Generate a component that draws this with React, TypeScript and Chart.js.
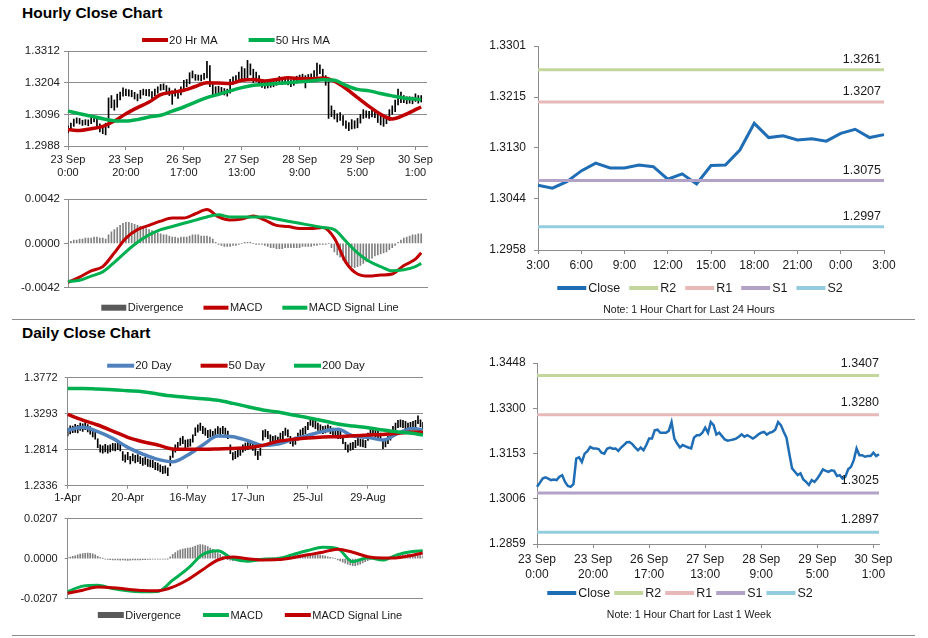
import { useEffect, useRef } from 'react';
import { Chart, registerables } from 'chart.js';

Chart.register(...registerables);

const FONT = 'Arial, "Liberation Sans", Helvetica, sans-serif';
Chart.defaults.font.family = FONT;
const AXIS = '#8c8c8c';
const INK = '#1a1a1a';
const NONE = 'rgba(0,0,0,0)';
const RED = '#c00000';
const GREEN = '#00b050';
const BLUE_MA = '#4f81bd';
const CLOSE_BLUE = '#1f6db4';
const R2_C = '#c3d69b';
const R1_C = '#e6b9b8';
const S1_C = '#b3a2c7';
const S2_C = '#93cddd';
const DIV_GRAY = '#808080';
const DIV_KEY = '#595959';

// ---------------- tick labels ----------------
const hourlyTickNames = [['23 Sep', '0:00'], ['23 Sep', '20:00'], ['26 Sep', '17:00'], ['27 Sep', '13:00'], ['28 Sep', '9:00'], ['29 Sep', '5:00'], ['30 Sep', '1:00']];
const dailyTickNames = ['1-Apr', '20-Apr', '16-May', '17-Jun', '25-Jul', '29-Aug'];
const dayTickNames = ['3:00', '6:00', '9:00', '12:00', '15:00', '18:00', '21:00', '0:00', '3:00'];

const hourlyPriceTicks = [1.2988, 1.3096, 1.3204, 1.3312];
const hourlyMacdTicks = [-0.0042, 0, 0.0042];
const dailyPriceTicks = [1.2336, 1.2814, 1.3293, 1.3772];
const dailyMacdTicks = [-0.0207, 0, 0.0207];
const dayTicks = [1.2958, 1.3044, 1.313, 1.3215, 1.3301];
const weekTicks = [1.2859, 1.3006, 1.3153, 1.33, 1.3448];

// ---------------- hourly (1 week) ----------------
const hourlyClose = [
  1.3045, 1.3058, 1.3072, 1.3076, 1.3072, 1.3067, 1.3069, 1.3067, 1.3078, 1.3083,
  1.3061, 1.3048, 1.3045, 1.3054, 1.3137, 1.3141, 1.3126, 1.3153, 1.3161, 1.3175,
  1.317, 1.317, 1.3168, 1.3156, 1.3153, 1.3169, 1.3173, 1.3169, 1.317, 1.3162,
  1.3173, 1.3181, 1.319, 1.3191, 1.3184, 1.3173, 1.3164, 1.3173, 1.3164, 1.3181,
  1.3202, 1.3202, 1.3229, 1.3231, 1.3221, 1.3221, 1.3221, 1.3227, 1.3256, 1.3202,
  1.3186, 1.3173, 1.3181, 1.3177, 1.3173, 1.317, 1.3205, 1.3213, 1.3213, 1.3221,
  1.3238, 1.3221, 1.3256, 1.3246, 1.3215, 1.3221, 1.321, 1.3199, 1.3195, 1.3197,
  1.3199, 1.3202, 1.3208, 1.3216, 1.3208, 1.3213, 1.3208, 1.3202, 1.3208, 1.3216,
  1.3221, 1.3224, 1.3215, 1.3221, 1.3224, 1.3231, 1.3256, 1.3246, 1.3224, 1.3205,
  1.3153, 1.3105, 1.3094, 1.3083, 1.3089, 1.3069, 1.3061, 1.3051, 1.3067, 1.3061,
  1.3072, 1.3086, 1.3102, 1.3097, 1.3094, 1.3099, 1.3097, 1.308, 1.3083, 1.3072,
  1.3078, 1.3102, 1.311, 1.3132, 1.317, 1.3148, 1.3148, 1.3143, 1.3145, 1.3145,
  1.3156, 1.3145, 1.3151,
];
const hourlyHigh = [
  1.3056, 1.3066, 1.308, 1.3084, 1.3082, 1.3076, 1.3078, 1.3077, 1.3087, 1.3091,
  1.3085, 1.3064, 1.3055, 1.3066, 1.3152, 1.316, 1.3145, 1.3165, 1.3172, 1.3186,
  1.3182, 1.318, 1.3178, 1.3171, 1.3165, 1.3178, 1.3182, 1.318, 1.3181, 1.3174,
  1.3182, 1.319, 1.3198, 1.32, 1.3194, 1.3186, 1.3176, 1.3183, 1.3178, 1.319,
  1.3212, 1.3215, 1.3238, 1.3244, 1.3232, 1.323, 1.323, 1.3236, 1.3277, 1.3262,
  1.3205, 1.319, 1.3192, 1.3188, 1.3184, 1.3182, 1.3215, 1.3224, 1.3228, 1.324,
  1.3258, 1.3252, 1.328, 1.3268, 1.325, 1.324, 1.3228, 1.3212, 1.3206, 1.3208,
  1.321, 1.3214, 1.3218, 1.3225, 1.322, 1.3222, 1.3219, 1.3214, 1.3218, 1.3226,
  1.323, 1.3233, 1.3228, 1.3232, 1.3234, 1.3245, 1.3271, 1.3265, 1.325, 1.3228,
  1.3208, 1.3125, 1.311, 1.3098, 1.3102, 1.3092, 1.3074, 1.3068, 1.3078, 1.3074,
  1.3082, 1.3096, 1.3112, 1.3108, 1.3106, 1.311, 1.3108, 1.31, 1.3095, 1.3088,
  1.309, 1.3112, 1.3125, 1.3145, 1.3182, 1.3172, 1.316, 1.3156, 1.3156, 1.3155,
  1.3166, 1.316, 1.316,
];
const hourlyLow = [
  1.3033, 1.304, 1.3055, 1.3066, 1.3063, 1.3058, 1.306, 1.3057, 1.3064, 1.307,
  1.3052, 1.3036, 1.303, 1.3026, 1.305, 1.3118, 1.311, 1.312, 1.3145, 1.3158,
  1.316, 1.3158, 1.3156, 1.3148, 1.3142, 1.315, 1.3162, 1.316, 1.3158, 1.315,
  1.316, 1.3168, 1.3178, 1.318, 1.3168, 1.316, 1.313, 1.3158, 1.315, 1.3162,
  1.3178, 1.319, 1.32, 1.322, 1.3212, 1.3212, 1.321, 1.3215, 1.322, 1.319,
  1.316, 1.316, 1.3166, 1.3165, 1.3162, 1.3158, 1.3168, 1.3198, 1.3202, 1.3208,
  1.3215, 1.321, 1.322, 1.323, 1.3205, 1.3208, 1.3198, 1.3188, 1.3184, 1.3186,
  1.3188, 1.319, 1.3195, 1.3202, 1.3197, 1.32, 1.3196, 1.319, 1.3195, 1.3203,
  1.3208, 1.3212, 1.3186, 1.3208, 1.3212, 1.3218, 1.3225, 1.3235, 1.3215, 1.3195,
  1.3082, 1.3088, 1.308, 1.307, 1.3075, 1.3058, 1.3048, 1.304, 1.3046, 1.3048,
  1.305, 1.3066, 1.3082, 1.3085, 1.3082, 1.3087, 1.3085, 1.3068, 1.306, 1.3055,
  1.3064, 1.3075, 1.3096, 1.3105, 1.3128, 1.3136, 1.3136, 1.3132, 1.3134, 1.3132,
  1.314, 1.3134, 1.3138,
];
// moving averages sampled every 4 hours (last sample = last hour)
const hourlyMa20 = [
  1.3044, 1.3041, 1.3047, 1.3055, 1.3073, 1.3098, 1.3119, 1.3138, 1.3163, 1.3171,
  1.3178, 1.3191, 1.3204, 1.3203, 1.3201, 1.3212, 1.3215, 1.321, 1.3215, 1.3221,
  1.3218, 1.3217, 1.322, 1.3209, 1.3184, 1.3153, 1.3123, 1.3096, 1.308, 1.3093,
  1.3112, 1.3121,
];
const hourlyMa50 = [
  1.3107, 1.3098, 1.309, 1.3081, 1.3074, 1.3073, 1.3078, 1.3087, 1.3093, 1.3107,
  1.3121, 1.3138, 1.3153, 1.3164, 1.3176, 1.3187, 1.3195, 1.3198, 1.3201, 1.3204,
  1.3207, 1.321, 1.3214, 1.3212, 1.3195, 1.3181, 1.3176, 1.3167, 1.3159, 1.3152,
  1.3148, 1.3146,
];
const hourlyMacd = [
  -0.0037, -0.0032, -0.0026, -0.0022, -0.0009, 0.0005, 0.0013, 0.0017, 0.0021, 0.0024,
  0.0024, 0.0028, 0.0032, 0.0025, 0.0022, 0.0023, 0.0026, 0.0022, 0.0017, 0.0016,
  0.0014, 0.0014, 0.0015, 0.0005, -0.0018, -0.0029, -0.0031, -0.003, -0.0029, -0.0021,
  -0.0015, -0.0009,
];
const hourlySignal = [
  -0.0036, -0.0035, -0.0031, -0.0027, -0.0018, -0.0008, 0.0001, 0.0008, 0.0013, 0.0016,
  0.0019, 0.0022, 0.0025, 0.0027, 0.0025, 0.0025, 0.0025, 0.0025, 0.0023, 0.0021,
  0.0019, 0.0017, 0.0015, 0.0013, 0.0002, -0.0009, -0.0017, -0.0022, -0.0026, -0.0025,
  -0.0022, -0.0019,
];
const hourlyDivergence = [
  0.0002, 0.0002, 0.0003, 0.0003, 0.0004, 0.0004, 0.0005, 0.0005, 0.0005, 0.0006,
  0.0006, 0.0005, 0.0005, 0.0004, 0.0008, 0.0011, 0.0013, 0.0015, 0.0017, 0.0019,
  0.002, 0.002, 0.0019, 0.0018, 0.0017, 0.0016, 0.0015, 0.0014, 0.0013, 0.0012,
  0.0011, 0.001, 0.0009, 0.0008, 0.0008, 0.0007, 0.0006, 0.0006, 0.0005, 0.0006,
  0.0006, 0.0006, 0.0007, 0.0008, 0.0008, 0.0008, 0.0007, 0.0007, 0.0007, 0.0006,
  0.0004, 0.0001, -0.0001, -0.0002, -0.0003, -0.0003, -0.0003, -0.0002, -0.0002, -0.0001,
  0, 0.0001, 0.0001, 0.0001, 0, -0.0001, -0.0001, -0.0001, -0.0002, -0.0003,
  -0.0004, -0.0004, -0.0005, -0.0005, -0.0005, -0.0004, -0.0004, -0.0004, -0.0004, -0.0004,
  -0.0004, -0.0003, -0.0003, -0.0003, -0.0003, -0.0002, -0.0002, -0.0001, -0.0001, -0.0001,
  0, -0.0004, -0.0008, -0.0011, -0.0013, -0.0016, -0.0018, -0.002, -0.0022, -0.0023,
  -0.0022, -0.0021, -0.0019, -0.0017, -0.0015, -0.0014, -0.0012, -0.0011, -0.001, -0.0009,
  -0.0008, -0.0006, -0.0004, -0.0002, 0.0001, 0.0003, 0.0005, 0.0006, 0.0007, 0.0008,
  0.0008, 0.0009, 0.0009,
];

// ---------------- daily ----------------
const dailyHigh = [
  1.3102, 1.3131, 1.3129, 1.3151, 1.314, 1.3168, 1.316, 1.3175, 1.315, 1.3122,
  1.3085, 1.3062, 1.296, 1.288, 1.2866, 1.2885, 1.287, 1.2878, 1.2901, 1.2897,
  1.2912, 1.2903, 1.279, 1.2748, 1.2781, 1.2726, 1.276, 1.2739, 1.2751, 1.2722,
  1.2704, 1.2716, 1.269, 1.2681, 1.2672, 1.2648, 1.2637, 1.2615, 1.2595, 1.2601,
  1.2575, 1.273, 1.2815, 1.288, 1.2912, 1.297, 1.2991, 1.2942, 1.2948, 1.2957,
  1.3012, 1.3105, 1.3146, 1.317, 1.3124, 1.3101, 1.3072, 1.3081, 1.306, 1.3092,
  1.3123, 1.3103, 1.3126, 1.3102, 1.3061, 1.288, 1.2778, 1.2793, 1.2815, 1.2836,
  1.288, 1.2902, 1.2911, 1.2925, 1.2903, 1.284, 1.2792, 1.2837, 1.3068, 1.3081,
  1.3058, 1.3014, 1.2991, 1.3001, 1.2983, 1.3036, 1.3059, 1.3102, 1.308, 1.2994,
  1.2956, 1.2982, 1.3037, 1.308, 1.3103, 1.3125, 1.3178, 1.3236, 1.3213, 1.3191,
  1.3169, 1.3147, 1.3124, 1.3133, 1.3146, 1.3125, 1.3102, 1.309, 1.3058, 1.3059,
  1.2995, 1.2912, 1.288, 1.2903, 1.2912, 1.2938, 1.2969, 1.2956, 1.2948, 1.2938,
  1.3037, 1.308, 1.3103, 1.3081, 1.3058, 1.3036, 1.2926, 1.2947, 1.2991, 1.3037,
  1.3124, 1.3169, 1.3204, 1.3213, 1.3205, 1.3191, 1.3169, 1.3178, 1.3192, 1.3204,
  1.3265, 1.3213, 1.3178,
];
const dailyLow = [
  1.2998, 1.3025, 1.3041, 1.3046, 1.3037, 1.3071, 1.3058, 1.308, 1.3052, 1.3021,
  1.2984, 1.2955, 1.2842, 1.2781, 1.277, 1.2786, 1.2768, 1.2784, 1.2805, 1.2797,
  1.2815, 1.28, 1.2672, 1.2649, 1.2683, 1.2625, 1.2665, 1.2638, 1.2654, 1.2628,
  1.2606, 1.2619, 1.2594, 1.2585, 1.2575, 1.255, 1.254, 1.2519, 1.2497, 1.2503,
  1.247, 1.2598, 1.2712, 1.2781, 1.2815, 1.2873, 1.2895, 1.2841, 1.2851, 1.286,
  1.2914, 1.3001, 1.3049, 1.3072, 1.3027, 1.3005, 1.2975, 1.2984, 1.2961, 1.2993,
  1.3028, 1.3006, 1.3027, 1.3005, 1.296, 1.2761, 1.268, 1.2695, 1.2718, 1.2739,
  1.2783, 1.2806, 1.2815, 1.2828, 1.2806, 1.2738, 1.2682, 1.274, 1.294, 1.2983,
  1.2962, 1.2916, 1.2894, 1.2904, 1.2885, 1.2939, 1.2962, 1.3005, 1.2983, 1.2895,
  1.286, 1.2885, 1.294, 1.2984, 1.3006, 1.3027, 1.308, 1.3139, 1.3116, 1.3095,
  1.3072, 1.3049, 1.3028, 1.3037, 1.305, 1.3027, 1.3006, 1.2993, 1.2962, 1.2961,
  1.2894, 1.2815, 1.2783, 1.2806, 1.2815, 1.2842, 1.2873, 1.2859, 1.2851, 1.2841,
  1.2939, 1.2983, 1.3006, 1.2984, 1.2962, 1.2939, 1.2828, 1.2851, 1.2894, 1.294,
  1.3027, 1.3072, 1.3107, 1.3116, 1.3108, 1.3094, 1.3071, 1.3081, 1.3095, 1.3108,
  1.316, 1.3117, 1.3081,
];
// moving averages sampled every 6 sessions (last sample = last session)
const dailyMa20 = [
  1.3076, 1.3112, 1.3054, 1.2965, 1.2846, 1.2757, 1.2686, 1.2655, 1.2744, 1.2877,
  1.2996, 1.2988, 1.2934, 1.2872, 1.289, 1.2952, 1.3005, 1.3058, 1.3085, 1.2996,
  1.2979, 1.2943, 1.3032, 1.3098, 1.3076,
];
const dailyMa50 = [
  1.3284, 1.3209, 1.3143, 1.3063, 1.2979, 1.2921, 1.2877, 1.2824, 1.2819, 1.2819,
  1.2824, 1.2832, 1.2841, 1.2872, 1.2925, 1.2952, 1.297, 1.2983, 1.2988, 1.3001,
  1.301, 1.3018, 1.3032, 1.305, 1.3045,
];
const dailyMa200 = [
  1.363, 1.363, 1.3621, 1.3612, 1.3599, 1.3586, 1.3555, 1.3528, 1.351, 1.3493,
  1.3471, 1.3431, 1.3386, 1.3342, 1.3315, 1.3276, 1.324, 1.32, 1.3156, 1.3129,
  1.3107, 1.3076, 1.305, 1.3032, 1.301,
];
const dailyMacd = [
  -0.017, -0.0142, -0.0137, -0.0155, -0.0166, -0.0171, -0.017, -0.0111, -0.0052, 0.0021,
  0.0041, 0, -0.0013, -0.0003, 0, 0.0021, 0.0042, 0.0059, 0.0052, -0.0016,
  0.0005, -0.0007, 0.0021, 0.0037, 0.0041,
];
const dailySignal = [
  -0.0179, -0.0163, -0.0147, -0.015, -0.0158, -0.0165, -0.0166, -0.0147, -0.0109, -0.0057,
  -0.0007, 0.0008, 0, -0.0007, -0.0005, 0.0005, 0.002, 0.0033, 0.0049, 0.0033,
  0.001, 0.0003, 0.0005, 0.0018, 0.0029,
];
const dailyDivergence = [
  0.0005, 0.0008, 0.0012, 0.0015, 0.002, 0.0024, 0.0026, 0.0028, 0.0029, 0.0028,
  0.0025, 0.002, 0.0012, 0.0006, 0.0001, -0.0002, -0.0004, -0.0005, -0.0006, -0.0006,
  -0.0007, -0.0008, -0.0007, -0.0008, -0.0009, -0.0008, -0.0007, -0.0007, -0.0006, -0.0006,
  -0.0005, -0.0005, -0.0004, -0.0004, -0.0003, -0.0003, -0.0003, -0.0002, -0.0002, -0.0002,
  -0.0001, 0.001, 0.0022, 0.0032, 0.004, 0.0046, 0.005, 0.0052, 0.0054, 0.0056,
  0.006, 0.0065, 0.007, 0.0073, 0.0072, 0.0068, 0.0062, 0.0055, 0.0048, 0.004,
  0.0032, 0.0022, 0.0012, 0.0003, -0.0005, -0.0008, -0.001, -0.001, -0.0012, -0.0012,
  -0.0013, -0.0014, -0.0012, -0.001, -0.0008, -0.0006, -0.0004, -0.0002, 0, 0.0002,
  0.0003, 0.0004, 0.0005, 0.0006, 0.0008, 0.0009, 0.001, 0.0012, 0.0013, 0.0014,
  0.0015, 0.0016, 0.0017, 0.0018, 0.0019, 0.002, 0.0021, 0.0022, 0.0022, 0.0021,
  0.002, 0.0018, 0.0016, 0.0013, 0.001, 0.0007, 0.0004, 0, -0.0006, -0.0012,
  -0.0018, -0.0024, -0.0029, -0.0033, -0.0036, -0.0036, -0.0033, -0.0028, -0.0022, -0.0016,
  -0.001, -0.0005, -0.0002, 0, 0.0001, 0, -0.0002, -0.0004, -0.0003, 0,
  0.0004, 0.0008, 0.0012, 0.0016, 0.0018, 0.002, 0.0022, 0.0022, 0.0021, 0.0019,
  0.0018, 0.0016, 0.0014,
];

// ---------------- last 24 hours ----------------
const last24Close = [
  1.3067, 1.3062, 1.3073, 1.3091, 1.3104, 1.3096, 1.3096, 1.3101, 1.3098, 1.3077,
  1.3086, 1.3069, 1.31, 1.3101, 1.3126, 1.3171, 1.3147, 1.315, 1.3143, 1.3145,
  1.3141, 1.3154, 1.3161, 1.3147, 1.3152,
];
const dayLevels = [1.3261, 1.3207, 1.3075, 1.2997]; // R2, R1, S1, S2
const weekLevels = [1.3407, 1.328, 1.3025, 1.2897]; // R2, R1, S1, S2
const levelNames = ['R2', 'R1', 'S1', 'S2'];
const levelColors = [R2_C, R1_C, S1_C, S2_C];

const HOURLY_SLOTS = 125; // axis slots on the hourly price/MACD panels
const hourlySlots = Array.from({ length: HOURLY_SLOTS }, (_, i) => `h${i}`);
const weekSlots = hourlyClose.map((_, i) => `h${i}`);
const dailySlots = dailyHigh.map((_, i) => `d${i}`);
const daySlots = last24Close.map((_, i) => `t${i}`);

// ---------------- helpers ----------------
function sparse(values: number[], step: number, length: number) {
  const out: (number | null)[] = new Array(length).fill(null);
  values.forEach((v, i) => {
    out[Math.min(i * step, length - 1)] = v;
  });
  return out;
}

function xCat(every: number, names: any[], size: number, tl: number, pad: number, height: number, show = true) {
  return {
    type: 'category',
    offset: false,
    ticks: {
      display: show,
      autoSkip: false,
      maxRotation: 0,
      minRotation: 0,
      font: { size, family: FONT },
      color: INK,
      padding: pad,
      callback: (_v: any, i: number) => (i % every === 0 && names[i / every] !== undefined ? names[i / every] : ''),
    },
    grid: {
      offset: false,
      drawOnChartArea: false,
      drawTicks: show,
      tickLength: tl,
      tickWidth: 1,
      tickColor: (c: any) => (c.index % every === 0 ? AXIS : NONE),
    },
    border: { color: AXIS, width: 1 },
    afterFit: (s: any) => {
      s.height = height;
    },
  };
}

function yLin(ticks: number[], width: number, size: number, tl: number, pad: number, gridAt: number[] | null) {
  return {
    type: 'linear',
    min: ticks[0],
    max: ticks[ticks.length - 1],
    afterBuildTicks: (s: any) => {
      s.ticks = ticks.map((value) => ({ value }));
    },
    afterFit: (s: any) => {
      s.width = width;
    },
    ticks: {
      font: { size, family: FONT },
      color: INK,
      padding: pad,
      callback: (v: any) => Number(v).toFixed(4),
    },
    grid: {
      drawOnChartArea: gridAt !== null,
      color: (c: any) => (gridAt && c.tick && gridAt.includes(c.tick.value) ? AXIS : NONE),
      drawTicks: true,
      tickLength: tl,
      tickColor: AXIS,
    },
    border: { color: AXIS, width: 1 },
  };
}

type LItem = { text: string; color: string; box?: boolean };
type LOpts = { cx: number; cy: number; size: number; sw: number; sh: number; gap: number; tgap: number; note?: string; noteX?: number; noteY?: number; noteSize?: number };

function legendPlugin(id: string, items: LItem[], o: LOpts) {
  return {
    id,
    afterDraw(chart: any) {
      const ctx = chart.ctx;
      ctx.save();
      ctx.font = `${o.size}px ${FONT}`;
      ctx.textBaseline = 'middle';
      ctx.textAlign = 'left';
      const widths = items.map((it) => ctx.measureText(it.text).width);
      const total = items.reduce((s, _it, i) => s + o.sw + o.tgap + widths[i], 0) + o.gap * (items.length - 1);
      let x = o.cx - total / 2;
      items.forEach((it, i) => {
        ctx.fillStyle = it.color;
        const h = it.box ? o.sh + 2 : o.sh;
        ctx.fillRect(x, o.cy - h / 2, o.sw, h);
        x += o.sw + o.tgap;
        ctx.fillStyle = INK;
        ctx.fillText(it.text, x, o.cy + 0.5);
        x += widths[i] + o.gap;
      });
      if (o.note) {
        ctx.font = `${o.noteSize}px ${FONT}`;
        ctx.textAlign = 'center';
        ctx.fillText(o.note, o.noteX, o.noteY);
      }
      ctx.restore();
    },
  };
}

function levelLabelPlugin(id: string, levels: number[], dx: number, dy: number, size: number) {
  return {
    id,
    afterDatasetsDraw(chart: any) {
      const { ctx, chartArea } = chart;
      const y = chart.scales.y;
      ctx.save();
      ctx.font = `${size}px ${FONT}`;
      ctx.fillStyle = INK;
      ctx.textAlign = 'right';
      ctx.textBaseline = 'middle';
      levels.forEach((v) => ctx.fillText(v.toFixed(4), chartArea.right + dx, y.getPixelForValue(v) - dy));
      ctx.restore();
    },
  };
}

const baseOptions = (padding: any) => ({
  animation: false,
  responsive: false,
  devicePixelRatio: 1,
  layout: { padding },
  plugins: { legend: { display: false }, tooltip: { enabled: false }, title: { display: false } },
});

const lineDs = (label: string, data: any[], color: string, width: number, order: number, smooth = false) => ({
  type: 'line',
  label,
  data,
  borderColor: color,
  backgroundColor: color,
  borderWidth: width,
  pointRadius: 0,
  pointHoverRadius: 0,
  spanGaps: true,
  fill: false,
  cubicInterpolationMode: smooth ? 'monotone' : 'default',
  order,
});

// ---------------- chart configs ----------------
function hourlyPriceConfig() {
  const n = hourlyClose.length;
  return {
    type: 'line',
    data: {
      labels: hourlySlots,
      datasets: [
        lineDs('50 Hrs MA', sparse(hourlyMa50, 4, n), GREEN, 3.5, 1, true),
        lineDs('20 Hr MA', sparse(hourlyMa20, 4, n), RED, 3.5, 2, true),
        { type: 'bar', label: 'Hourly range', data: hourlyLow.map((l, i) => [l, hourlyHigh[i]]), backgroundColor: '#000', barThickness: 1, order: 3 },
      ],
    },
    options: {
      ...baseOptions({ top: 29, right: 13, bottom: 0, left: 0 }),
      scales: { x: xCat(20, hourlyTickNames, 11, 4, 3.4, 41), y: yLin(hourlyPriceTicks, 68, 11.5, 4, 4, hourlyPriceTicks) },
    },
    plugins: [legendPlugin('lgA', [{ text: '20 Hr MA', color: RED }, { text: '50 Hrs MA', color: GREEN }], { cx: 236, cy: 18, size: 11.5, sw: 26, sh: 4, gap: 31, tgap: 1 })],
  };
}

function hourlyMacdConfig() {
  const n = hourlyClose.length;
  return {
    type: 'line',
    data: {
      labels: hourlySlots,
      datasets: [
        lineDs('MACD Signal Line', sparse(hourlySignal, 4, n), GREEN, 3, 1, true),
        lineDs('MACD', sparse(hourlyMacd, 4, n), RED, 3, 2, true),
        { type: 'bar', label: 'Divergence', data: hourlyDivergence, backgroundColor: DIV_GRAY, barThickness: 1, order: 3 },
      ],
    },
    options: {
      ...baseOptions({ top: 12, right: 13, bottom: 27.3, left: 0 }),
      scales: { x: xCat(20, [], 11, 0, 0, 0, false), y: yLin(hourlyMacdTicks, 68, 11.5, 4, 4, [0.0042]) },
    },
    plugins: [
      legendPlugin('lgB', [{ text: 'Divergence', color: DIV_KEY, box: true }, { text: 'MACD', color: RED }, { text: 'MACD Signal Line', color: GREEN }], { cx: 250, cy: 120.7, size: 11, sw: 25, sh: 4, gap: 20, tgap: 1.5 }),
    ],
  };
}

function levelChartConfig(opts: { labels: string[]; close: number[]; levels: number[]; every: number; names: any[]; yTicks: number[]; padding: any; yWidth: number; yPad: number; xHeight: number; xPad: number; legend: LOpts; lblDx: number; lblDy: number; closeWidth: number }) {
  const n = opts.close.length;
  return {
    type: 'line',
    data: {
      labels: opts.labels,
      datasets: [
        lineDs('Close', opts.close, CLOSE_BLUE, opts.closeWidth, 5),
        ...opts.levels.map((lv, i) => lineDs(levelNames[i], new Array(n).fill(lv), levelColors[i], 3, 4 - i)),
      ],
    },
    options: {
      ...baseOptions(opts.padding),
      scales: { x: xCat(opts.every, opts.names, 12, 4, opts.xPad, opts.xHeight), y: yLin(opts.yTicks, opts.yWidth, 12, 4, opts.yPad, null) },
    },
    plugins: [
      legendPlugin('lg' + n, [{ text: 'Close', color: CLOSE_BLUE }, ...levelNames.map((t, i) => ({ text: t, color: levelColors[i] }))], opts.legend),
      levelLabelPlugin('lv' + n, opts.levels, opts.lblDx, opts.lblDy, 12.5),
    ],
  };
}

function dailyPriceConfig() {
  const n = dailyHigh.length;
  return {
    type: 'line',
    data: {
      labels: dailySlots,
      datasets: [
        lineDs('200 Day', sparse(dailyMa200, 6, n), GREEN, 3.5, 1, true),
        lineDs('50 Day', sparse(dailyMa50, 6, n), RED, 3.5, 2, true),
        lineDs('20 Day', sparse(dailyMa20, 6, n), BLUE_MA, 3.5, 3, true),
        { type: 'bar', label: 'Daily range', data: dailyLow.map((l, i) => [l, dailyHigh[i]]), backgroundColor: '#000', barThickness: 1, order: 4 },
      ],
    },
    options: {
      ...baseOptions({ top: 37.7, right: 17, bottom: 2.3, left: 0 }),
      scales: { x: xCat(24, dailyTickNames, 11, 3, 3, 22), y: yLin(dailyPriceTicks, 67.7, 11, 3, 7, dailyPriceTicks) },
    },
    plugins: [legendPlugin('lgD', [{ text: '20 Day', color: BLUE_MA }, { text: '50 Day', color: RED }, { text: '200 Day', color: GREEN }], { cx: 236, cy: 25.7, size: 11.5, sw: 27, sh: 4, gap: 29, tgap: 1 })],
  };
}

function dailyMacdConfig() {
  const n = dailyHigh.length;
  return {
    type: 'line',
    data: {
      labels: dailySlots,
      datasets: [
        lineDs('MACD Signal Line', sparse(dailySignal, 6, n), RED, 3, 1, true),
        lineDs('MACD', sparse(dailyMacd, 6, n), GREEN, 3, 2, true),
        { type: 'bar', label: 'Divergence', data: dailyDivergence, backgroundColor: DIV_GRAY, barThickness: 1, order: 3 },
      ],
    },
    options: {
      ...baseOptions({ top: 9, right: 17.3, bottom: 31.3, left: 0 }),
      scales: { x: xCat(24, [], 11, 0, 0, 0, false), y: yLin(dailyMacdTicks, 67.7, 11, 3, 7, [0.0207]) },
    },
    plugins: [
      legendPlugin('lgE', [{ text: 'Divergence', color: DIV_KEY, box: true }, { text: 'MACD', color: GREEN }, { text: 'MACD Signal Line', color: RED }], { cx: 250, cy: 110, size: 11, sw: 26, sh: 4, gap: 22, tgap: 1.5 }),
    ],
  };
}

function ChartBox({ left, top, width, height, make }: { left: number; top: number; width: number; height: number; make: () => any }) {
  const ref = useRef<HTMLCanvasElement | null>(null);
  useEffect(() => {
    const chart = new Chart(ref.current as HTMLCanvasElement, make());
    return () => chart.destroy();
  }, []);
  return (
    <div style={{ position: 'absolute', left, top, width, height }}>
      <canvas ref={ref} width={width} height={height} style={{ width, height, display: 'block' }} />
    </div>
  );
}

const titleStyle = (top: number): any => ({
  position: 'absolute',
  left: 22,
  top,
  fontFamily: FONT,
  fontWeight: 'bold',
  fontSize: 15.5,
  lineHeight: '18px',
  color: '#000',
  whiteSpace: 'nowrap',
});

const ruleStyle = (top: number): any => ({
  position: 'absolute',
  left: 12,
  top,
  width: 903,
  height: 0,
  borderTop: '1.5px solid #8c8c8c',
});

export default function App() {
  return (
    <div style={{ position: 'fixed', left: 0, top: 0, width: 928, height: 638, background: '#fff', overflow: 'hidden' }}>
      <div style={titleStyle(4)}>Hourly Close Chart</div>
      <div style={titleStyle(323.5)}>Daily Close Chart</div>
      <ChartBox left={0} top={22} width={440} height={165} make={hourlyPriceConfig} />
      <ChartBox left={0} top={187} width={440} height={128} make={hourlyMacdConfig} />
      <ChartBox
        left={460}
        top={30}
        width={468}
        height={288}
        make={() =>
          levelChartConfig({
            labels: daySlots,
            close: last24Close,
            levels: dayLevels,
            every: 3,
            names: dayTickNames,
            yTicks: dayTicks,
            padding: { top: 16, right: 44, bottom: 38, left: 0 },
            yWidth: 78,
            yPad: 8,
            xHeight: 30,
            xPad: 4.8,
            legend: { cx: 240, cy: 258, size: 12.5, sw: 29, sh: 4, gap: 9, tgap: 2, note: 'Note: 1 Hour Chart for Last 24 Hours', noteX: 229, noteY: 280, noteSize: 10.5 },
            lblDx: -3,
            lblDy: 10,
            closeWidth: 3,
          })
        }
      />
      <ChartBox left={0} top={340} width={440} height={170} make={dailyPriceConfig} />
      <ChartBox left={0} top={505} width={440} height={125} make={dailyMacdConfig} />
      <ChartBox
        left={460}
        top={345}
        width={468}
        height={290}
        make={() =>
          levelChartConfig({
            labels: weekSlots,
            close: hourlyClose,
            levels: weekLevels,
            every: 20,
            names: hourlyTickNames,
            yTicks: weekTicks,
            padding: { top: 18, right: 49, bottom: 51, left: 0 },
            yWidth: 77,
            yPad: 7.3,
            xHeight: 40,
            xPad: 4.8,
            legend: { cx: 220, cy: 248, size: 12.5, sw: 29, sh: 4, gap: 4, tgap: 2, note: 'Note: 1 Hour Chart for Last 1 Week', noteX: 229, noteY: 270.3, noteSize: 10.5 },
            lblDx: 0,
            lblDy: 12.5,
            closeWidth: 2.5,
          })
        }
      />
      <div style={ruleStyle(318.5)} />
      <div style={ruleStyle(635)} />
    </div>
  );
}
